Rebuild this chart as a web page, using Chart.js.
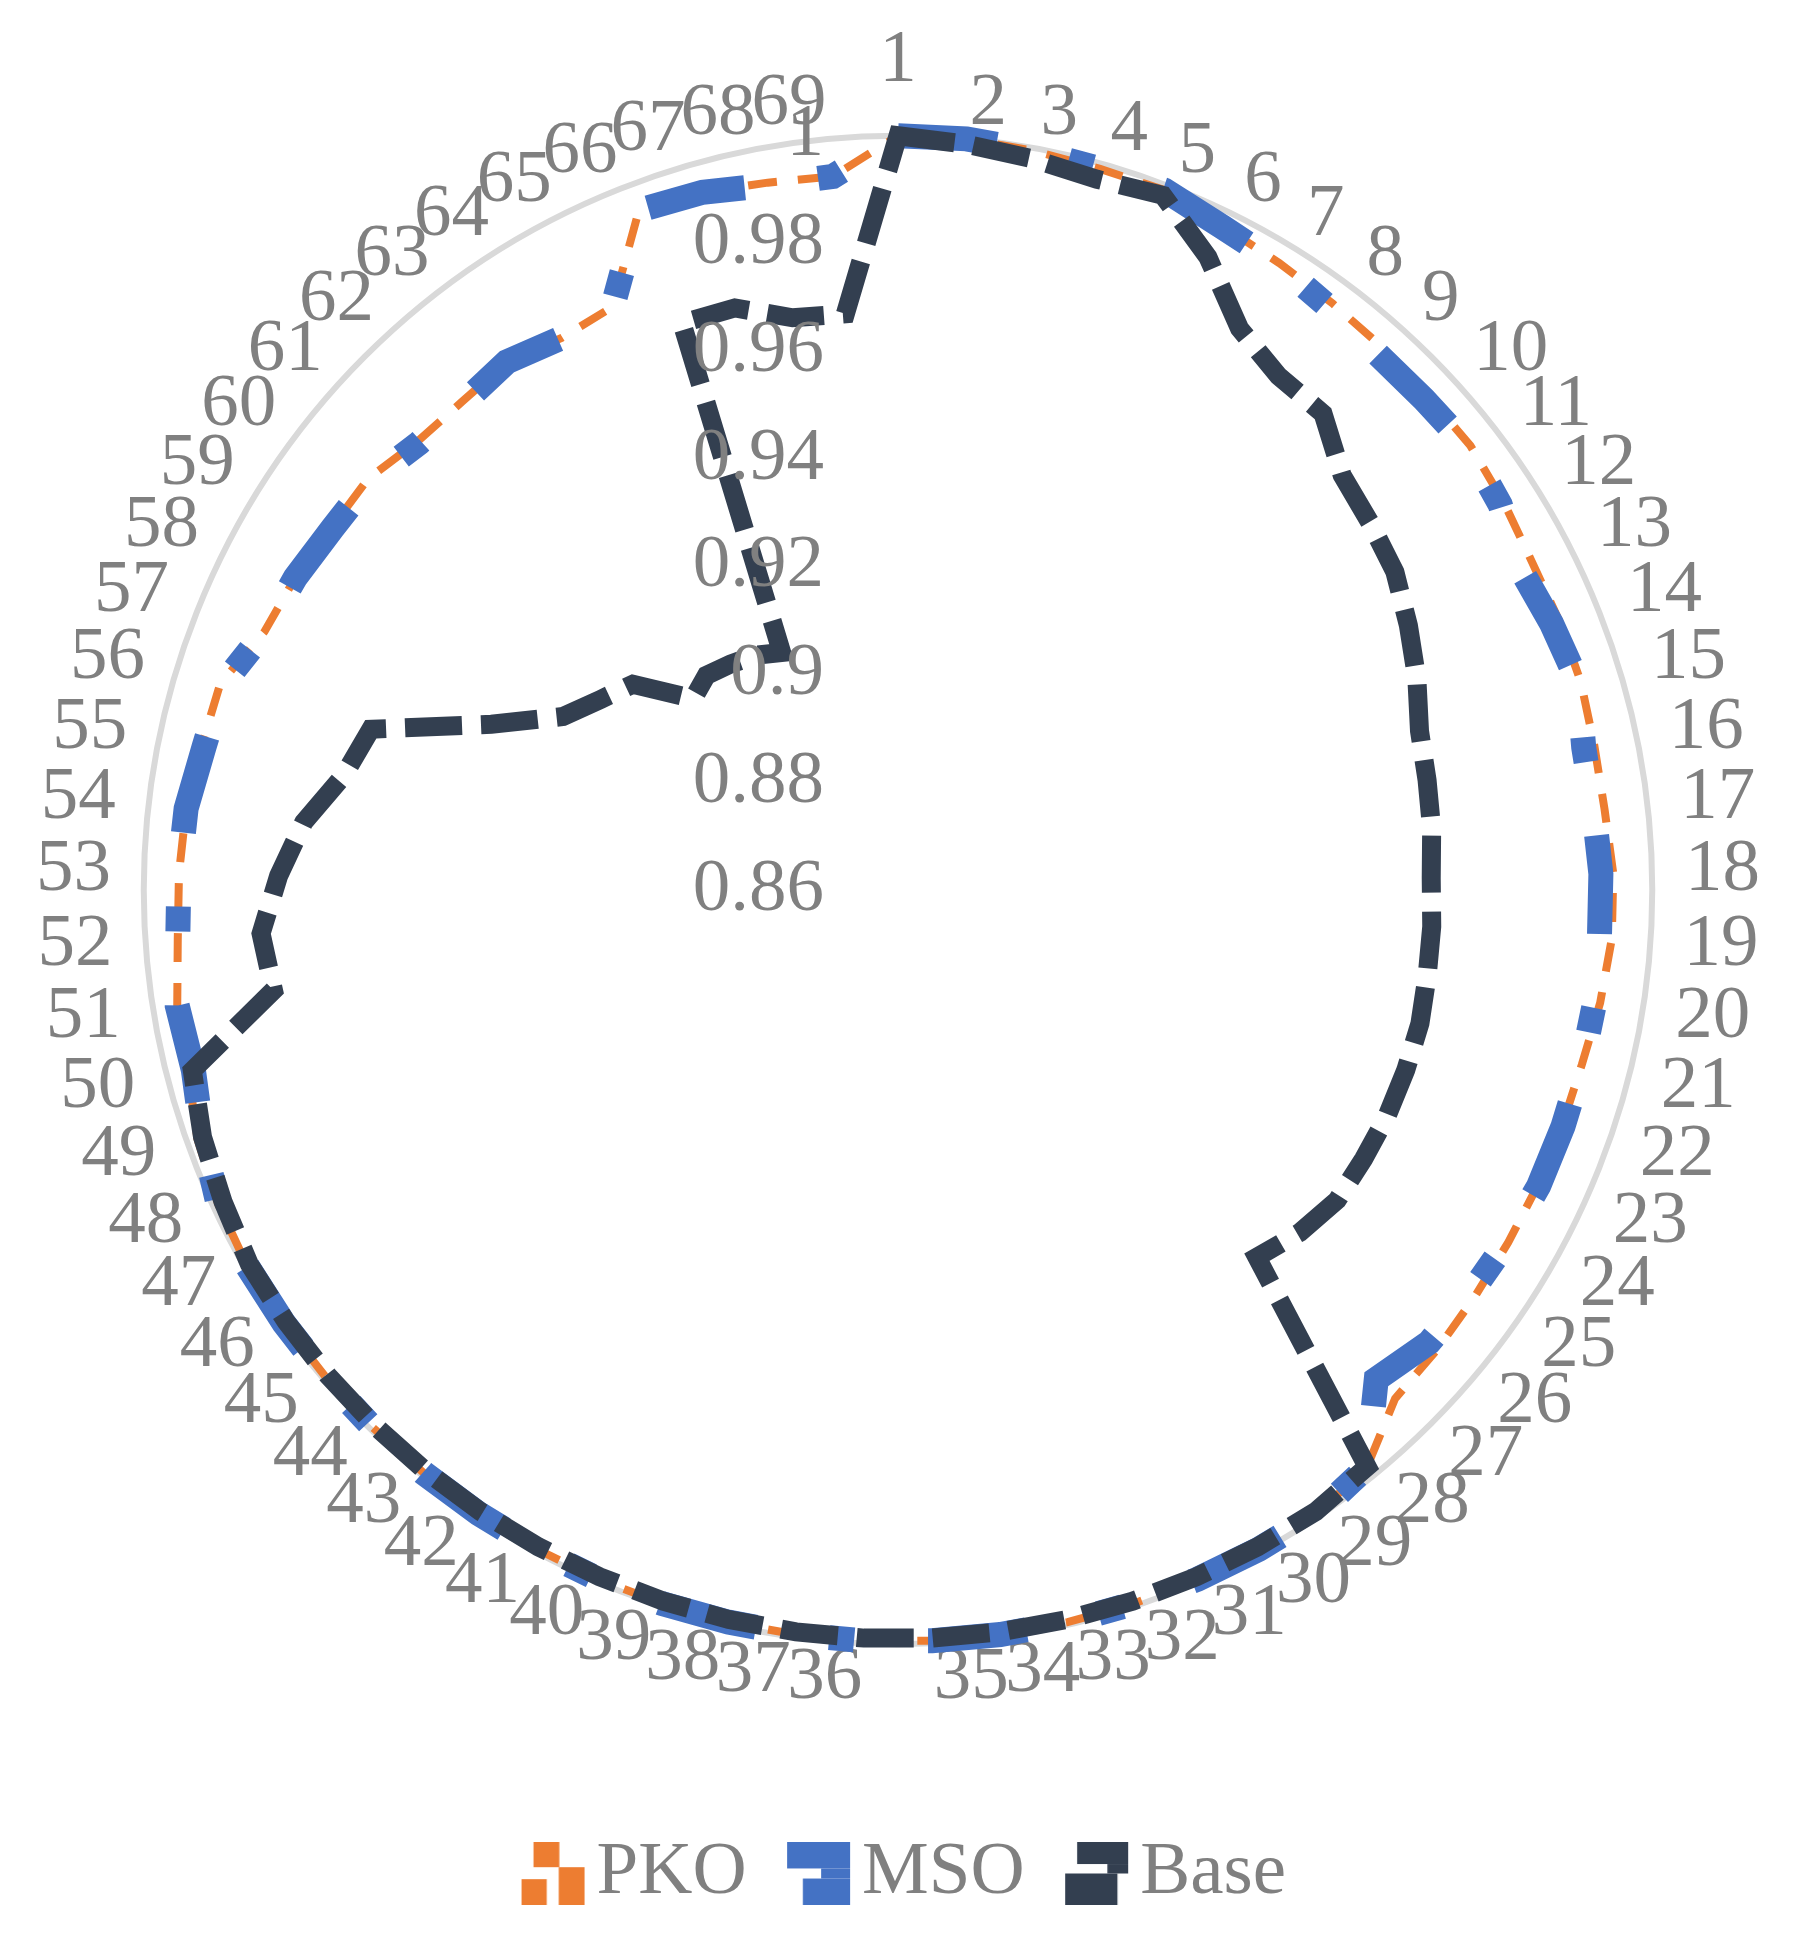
<!DOCTYPE html>
<html>
<head>
<meta charset="utf-8">
<script src="https://cdn.jsdelivr.net/npm/chart.js@4.4.1/dist/chart.umd.min.js"></script>
<style>
  html, body { margin: 0; padding: 0; background: #fff; }
  canvas { display: block; }
</style>
</head>
<body>
<canvas id="myChart" width="1797" height="1939"></canvas>
<script>
const labels = Array.from({ length: 69 }, (_, i) => String(i + 1));

const tickValues = [0.86, 0.88, 0.9, 0.92, 0.94, 0.96, 0.98, 1];

const pko = [
    1.0, 1.0, 0.9995, 0.999, 0.999, 0.9972, 0.9962, 0.9955, 0.995, 0.9945,
    0.9945, 0.9935, 0.9925, 0.9925, 0.9925, 0.992, 0.992, 0.9928, 0.9928, 0.992,
    0.991, 0.9908, 0.9908, 0.9908, 0.991, 0.9915, 0.992, 0.998, 0.9995, 0.9995,
    0.9995, 0.9995, 0.9995, 0.9995, 0.9995, 0.9995, 0.9995, 0.9995, 0.9995, 0.9995,
    0.9995, 0.9995, 0.9995, 0.9995, 0.9995, 0.9995, 0.9995, 0.999, 0.998, 0.996,
    0.9955, 0.994, 0.9935, 0.993, 0.992, 0.9915, 0.987, 0.986, 0.9848, 0.9845,
    0.982, 0.9815, 0.982, 0.980, 0.9805, 0.995, 0.9945, 0.9935, 0.993
];

const mso = [
    1.0, 1.0, 0.9995, 0.999, 0.999, 0.997, 0.996, 0.9945, 0.9935, 0.9935,
    0.994, 0.9927, 0.990, 0.991, 0.992, 0.990, 0.990, 0.9905, 0.9905, 0.991,
    0.991, 0.991, 0.991, 0.9905, 0.990, 0.9895, 0.987, 0.998, 0.9995, 0.9995,
    0.9995, 0.9995, 0.9995, 0.9995, 0.9995, 0.9995, 0.9995, 0.9995, 0.9995, 0.9995,
    0.9995, 0.9995, 0.9995, 0.9995, 0.9995, 0.9995, 0.9995, 0.999, 0.997, 0.995,
    0.9955, 0.994, 0.9935, 0.993, 0.9915, 0.991, 0.987, 0.986, 0.9846, 0.984,
    0.9816, 0.9812, 0.982, 0.980, 0.9805, 0.995, 0.9945, 0.993, 0.993
];

const base = [
    1.0, 0.999, 0.998, 0.997, 0.998, 0.9908, 0.982, 0.9787, 0.9785, 0.9728,
    0.971, 0.9695, 0.9667, 0.964, 0.9612, 0.9603, 0.9597, 0.959, 0.9593, 0.9595,
    0.960, 0.960, 0.960, 0.9598, 0.9598, 0.958, 0.9553, 0.998, 0.999, 0.999,
    0.999, 0.999, 0.999, 0.999, 0.999, 0.999, 0.999, 0.999, 0.999, 0.999,
    0.999, 0.999, 0.999, 0.999, 0.999, 0.999, 0.999, 0.998, 0.997, 0.9952,
    0.9774, 0.9785, 0.975, 0.971, 0.965, 0.9623, 0.9415, 0.930, 0.9256, 0.9223,
    0.912, 0.9134, 0.9122, 0.911, 0.9091, 0.9726, 0.9722, 0.968, 0.9674
];

const FONT = '"Liberation Serif", "Times New Roman", serif';
const GREY = '#808080';
Chart.defaults.font.family = FONT;

// excel prints 0.9 and 1, not 0.90 / 1.00
const fmt = (v) => String(+v.toFixed(2));

// legend symbol: a bit of thick dashed line squeezed in a box, like excel draws it.
// the canvas is wider than the symbol so it sits right next to the text.
function legendSymbol(color, rects) {
    const s = 63, shift = 49;
    const c = document.createElement('canvas');
    c.width = s + shift * 2 - 36;
    c.height = s;
    const g = c.getContext('2d');
    g.fillStyle = color;
    rects.forEach(([x, y, w, h]) => g.fillRect(shift + x * s, y * s, w * s, h * s));
    return c;
}

const symbols = [
    legendSymbol('#ED7D31', [[0.19, 0, 0.41, 0.40], [0, 0.59, 0.40, 0.41], [0.59, 0.40, 0.41, 0.60]]),
    legendSymbol('#4472C4', [[0, 0, 1, 0.42], [0.54, 0.42, 0.46, 0.16], [0.25, 0.58, 0.75, 0.42]]),
    legendSymbol('#333F50', [[0.19, 0, 0.81, 0.35], [0.67, 0.35, 0.33, 0.15], [0, 0.50, 0.83, 0.50]])
];

// radial tick labels: right aligned left of the centre line, on top of the lines
const tickLabels = {
    id: 'tickLabels',
    afterDatasetsDraw(chart) {
        const r = chart.scales.r;
        const ctx = chart.ctx;
        ctx.save();
        ctx.font = '75px ' + FONT;
        ctx.fillStyle = GREY;
        ctx.textAlign = 'right';
        ctx.textBaseline = 'middle';
        tickValues.forEach((v) => {
            ctx.fillText(fmt(v), r.xCenter - 74, r.yCenter - r.getDistanceFromCenterForValue(v));
        });
        ctx.restore();
    }
};

const data = {
    labels,
    datasets: [
        {
            label: 'PKO',
            data: pko,
            fill: false,
            borderColor: '#ED7D31',
            backgroundColor: '#ED7D31',
            borderWidth: 8,
            borderDash: [29, 21],
            order: 3,
        },
        {
            label: 'MSO',
            data: mso,
            fill: false,
            borderColor: '#4472C4',
            backgroundColor: '#4472C4',
            borderWidth: 25,
            borderDash: [99, 74, 25, 74],
            order: 2,
        },
        {
            label: 'Base',
            data: base,
            fill: false,
            borderColor: '#333F50',
            backgroundColor: '#333F50',
            borderWidth: 19,
            borderDash: [57, 19],
            order: 1,
        }
    ]
};

const config = {
    type: 'radar',
    data: data,
    options: {
        responsive: false,
        animation: false,
        layout: {
            padding: { top: 38, bottom: 18, left: 0, right: 0 }
        },
        elements: {
            point: { radius: 0, hitRadius: 0, hoverRadius: 0 },
            line: { tension: 0, borderJoinStyle: 'miter', borderCapStyle: 'butt' }
        },
        scales: {
            r: {
                min: 0.86,
                max: 1,
                ticks: { stepSize: 0.02, display: false },
                angleLines: { display: false },
                grid: {
                    circular: true,
                    lineWidth: 6,
                    color: (ctx) => (ctx.tick && ctx.tick.value > 0.999 ? '#D9D9D9' : 'rgba(0,0,0,0)')
                },
                pointLabels: {
                    color: GREY,
                    font: { size: 75, lineHeight: 0.05 },
                    // excel keeps a fixed gap, only the first label sits higher
                    padding: (ctx) => (ctx.index === 0 ? 73 : 33)
                }
            }
        },
        plugins: {
            tooltip: { enabled: false },
            legend: {
                position: 'bottom',
                title: { display: true, text: '', font: { size: 1 }, padding: { top: 103, bottom: 0 } },
                labels: {
                    color: GREY,
                    font: { size: 75 },
                    usePointStyle: true,
                    pointStyleWidth: 48,
                    boxWidth: 48,
                    boxHeight: 60,
                    padding: 30,
                    sort: (a, b) => a.datasetIndex - b.datasetIndex,
                    generateLabels: (chart) =>
                        Chart.defaults.plugins.legend.labels.generateLabels(chart).map((item) => ({
                            ...item,
                            pointStyle: symbols[item.datasetIndex],
                            rotation: 0,
                            lineWidth: 0,
                            lineDash: []
                        }))
                }
            }
        }
    },
    plugins: [tickLabels]
};

const myChart = new Chart(document.getElementById('myChart').getContext('2d'), config);
</script>
</body>
</html>
